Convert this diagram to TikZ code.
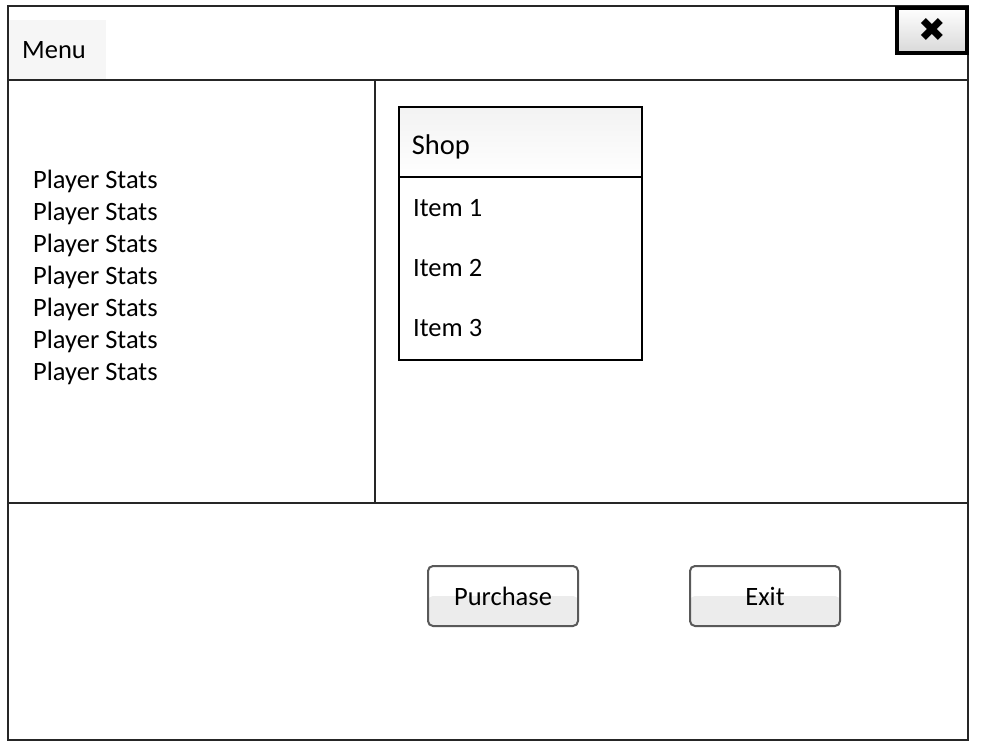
\documentclass[tikz,border=0pt]{standalone}
\usepackage{fontspec}
\setmainfont{Carlito}
\newfontfamily\symfont{DejaVu Sans}
\usetikzlibrary{positioning, shapes}
\newcommand{\uifont}{\fontsize{26.5}{32}\selectfont}
\tikzstyle{panel} = [draw=black!85, line width=2pt]
\tikzstyle{txt} = [inner sep=0pt, anchor=base west, font=\uifont]
\tikzstyle{entry} = [txt, text height=20pt, text depth=6pt]
\tikzstyle{menubox} = [rectangle, anchor=north west, fill=gray!7,
    minimum width=97pt, minimum height=60pt, text width=70pt, inner xsep=14pt,
    align=left, font=\uifont]
\tikzstyle{closebtn} = [rectangle, draw=black, line width=4pt, top color=white,
    bottom color=gray!30, minimum width=70pt, minimum height=45pt, inner sep=0pt,
    font=\symfont\fontsize{33}{33}\selectfont]
\tikzstyle{shopbox} = [rectangle, draw=black, line width=2pt, anchor=north west,
    minimum width=243pt, minimum height=253pt]
\tikzstyle{shophead} = [rectangle, draw=black, line width=1.5pt, anchor=north west,
    top color=gray!10, bottom color=white, minimum width=243pt, minimum height=70pt,
    text width=217pt, inner xsep=13pt, align=left, text height=32pt, text depth=6pt,
    font=\fontsize{28.5}{32}\selectfont]
\tikzstyle{button} = [rectangle, draw=black!65, line width=2pt, rounded corners=5pt,
    fill=white, minimum width=150pt, minimum height=60pt, font=\uifont,
    path picture={\fill[gray!15] (path picture bounding box.west) rectangle (path picture bounding box.south east);}]

\begin{document}
\begin{tikzpicture}[x=1pt, y=-1pt]
\useasboundingbox (0,0) rectangle (984,747);

\node [menubox] (menu) at (8,20) {Menu};

% window frame and panels
\draw [panel] (8,6) rectangle (968,740);
\draw [panel] (8,80) -- (968,80);
\draw [panel] (375,80) -- (375,503);
\draw [panel] (8,503) -- (968,503);

\node [closebtn] (close) at (932,30) {✖};

% player stats
\node [entry] (stat1) at (33,188) {Player Stats};
\node [entry, below=5.7pt of stat1] (stat2) {Player Stats};
\node [entry, below=5.7pt of stat2] (stat3) {Player Stats};
\node [entry, below=5.7pt of stat3] (stat4) {Player Stats};
\node [entry, below=5.7pt of stat4] (stat5) {Player Stats};
\node [entry, below=5.7pt of stat5] (stat6) {Player Stats};
\node [entry, below=5.7pt of stat6] (stat7) {Player Stats};

% shop list
\node [shopbox] (shop) at (398,106) {};
\node [shophead] (shophead) at (shop.north west) {Shop};
\node [entry] (item1) at (413,216) {Item 1};
\node [entry, below=34pt of item1] (item2) {Item 2};
\node [entry, below=34pt of item2] (item3) {Item 3};

% buttons
\node [button] (purchase) at (503,596) {Purchase};
\node [button, right of=purchase, node distance=262pt] (exit) {Exit};

\end{tikzpicture}
\end{document}
